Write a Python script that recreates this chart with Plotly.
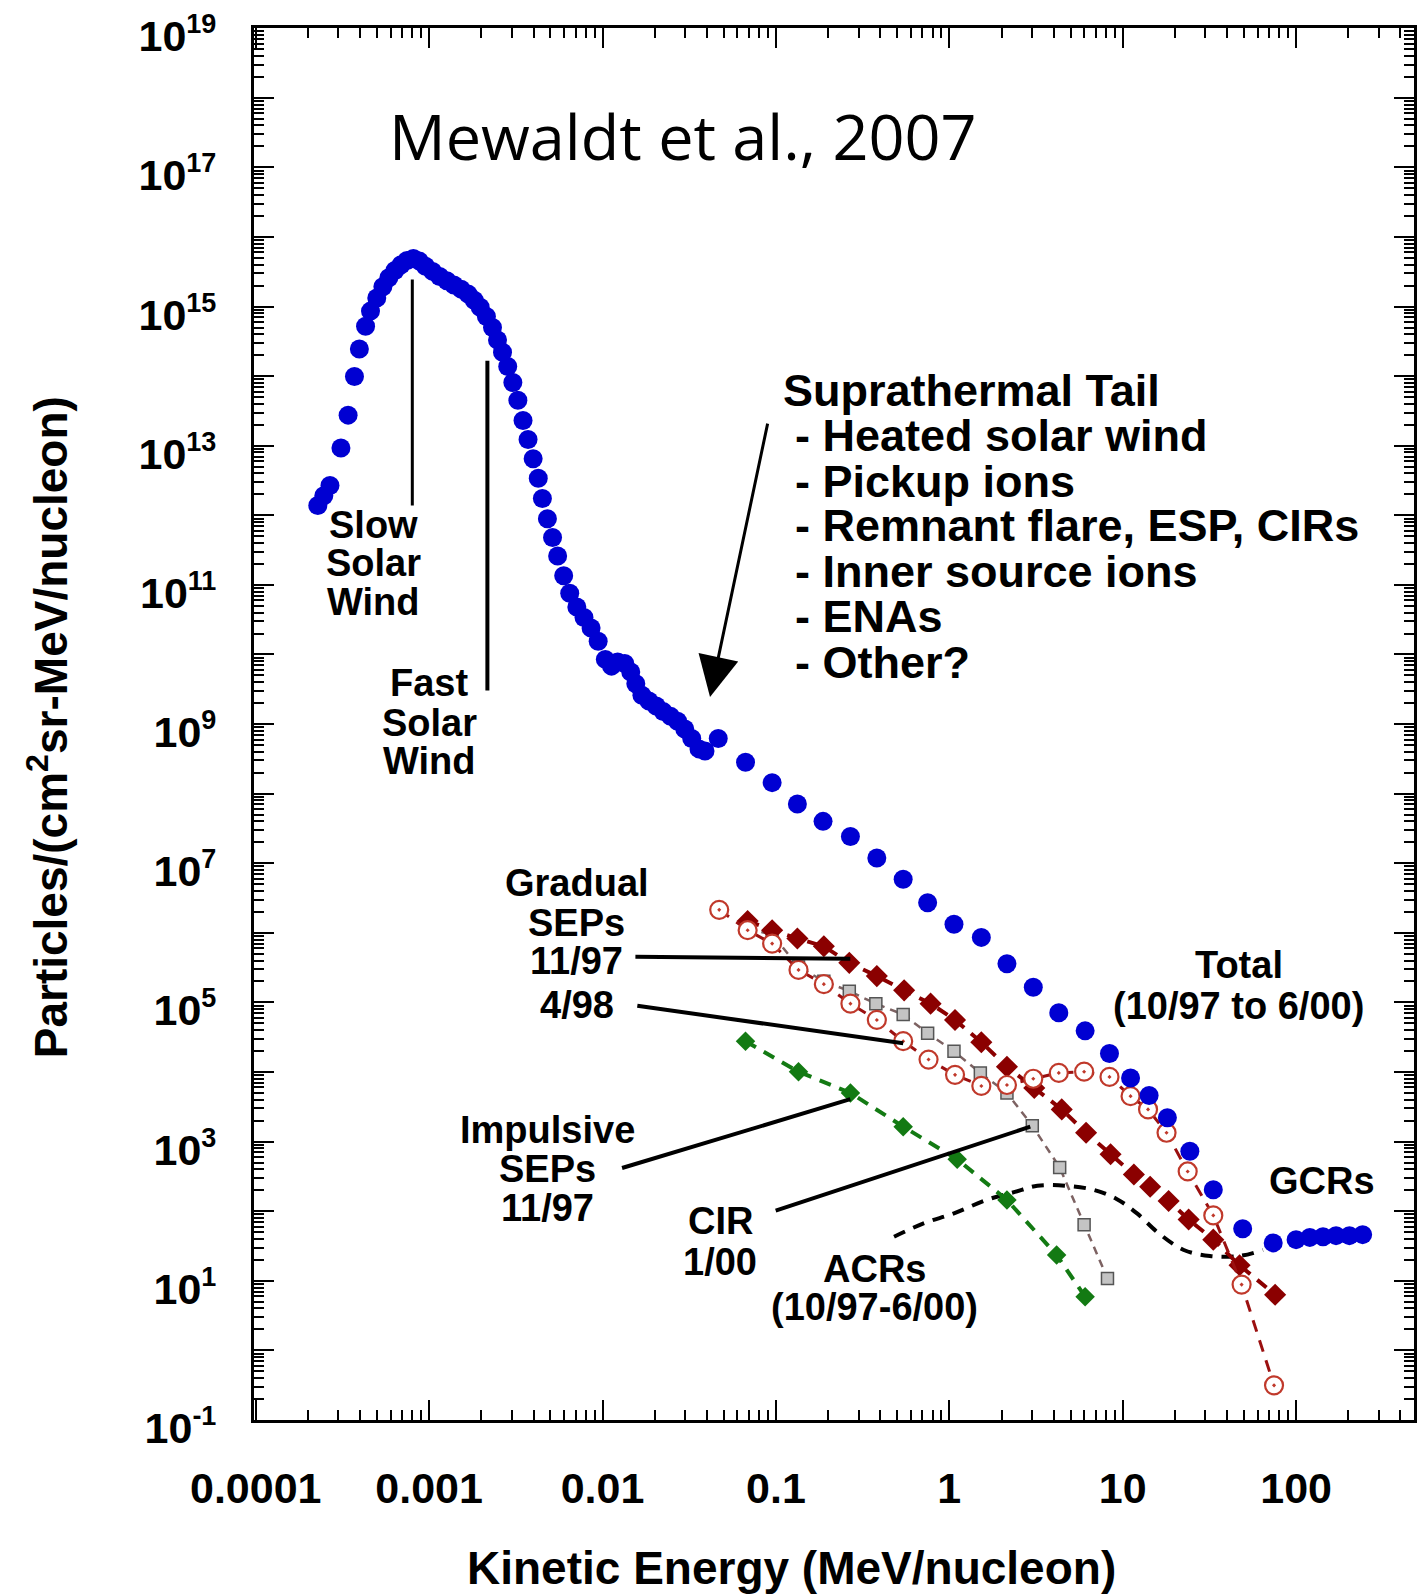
import plotly.graph_objects as go

# ---- Fluence spectra, oxygen-normalised particles (MeV/nucleon vs particles/(cm2 sr MeV/nucleon)) ----

# Total spectrum 10/97 to 6/00: solar wind peak, suprathermal tail and GCRs
total_energy = [2.28e-4, 2.47e-4, 2.68e-4, 3.10e-4, 3.41e-4, 3.71e-4, 3.96e-4, 4.30e-4, 4.59e-4, 4.99e-4,
                5.41e-4, 5.86e-4, 6.35e-4, 6.89e-4, 7.46e-4, 8.11e-4, 8.79e-4, 9.53e-4, 1.047e-3, 1.15e-3,
                1.265e-3, 1.39e-3, 1.53e-3, 1.68e-3, 1.82e-3, 1.97e-3, 2.14e-3, 2.32e-3, 2.48e-3, 2.65e-3,
                2.84e-3, 3.04e-3, 3.25e-3, 3.48e-3, 3.72e-3, 3.98e-3, 4.26e-3, 4.50e-3, 4.81e-3, 5.15e-3,
                5.51e-3, 5.97e-3, 6.47e-3, 7.11e-3, 7.82e-3, 8.59e-3, 9.44e-3, 1.038e-2, 1.127e-2, 1.222e-2,
                1.343e-2, 1.455e-2, 1.556e-2, 1.687e-2, 1.853e-2, 2.04e-2, 2.24e-2, 2.47e-2, 2.71e-2, 2.98e-2,
                3.27e-2, 3.60e-2, 3.90e-2, 4.65e-2, 6.68e-2, 9.51e-2, 0.133, 0.187, 0.269, 0.382,
                0.542, 0.750, 1.064, 1.53, 2.15, 3.05, 4.28, 6.07, 8.39, 11.1,
                14.2, 18.1, 24.4, 33.3, 49.2, 73.8, 100, 120, 143, 170, 203, 242]
total_flux = [1.38e12, 1.91e12, 2.69e12, 9.3e12, 2.75e13, 9.9e13, 2.46e14, 5.2e14, 8.6e14, 1.33e15,
              1.92e15, 2.6e15, 3.3e15, 4.0e15, 4.6e15, 4.9e15, 4.5e15, 3.8e15, 3.2e15, 2.7e15,
              2.35e15, 2.04e15, 1.78e15, 1.51e15, 1.23e15, 9.8e14, 7.2e14, 5.0e14, 3.3e14, 2.2e14,
              1.38e14, 8.1e13, 4.5e13, 2.3e13, 1.23e13, 6.5e12, 3.4e12, 1.74e12, 8.9e11, 4.8e11,
              2.6e11, 1.35e11, 7.6e10, 4.8e10, 3.4e10, 2.4e10, 1.55e10, 8.5e9, 6.8e9, 7.8e9,
              7.4e9, 5.6e9, 3.8e9, 2.6e9, 2.14e9, 1.82e9, 1.51e9, 1.29e9, 1.10e9, 8.5e8,
              6.2e8, 4.4e8, 4.1e8, 6.2e8, 2.82e8, 1.44e8, 7.1e7, 4.0e7, 2.42e7, 1.19e7,
              5.9e6, 2.7e6, 1.33e6, 8.6e5, 3.6e5, 1.65e5, 7.1e4, 3.9e4, 1.85e4, 8.2e3,
              4.6e3, 2.2e3, 728, 203, 56, 35, 39, 42, 43, 44.5, 44.5, 46]

# Gradual SEP event 11/97
grad1197_energy = [0.0687, 0.0951, 0.133, 0.189, 0.265, 0.382, 0.549, 0.780, 1.079, 1.53, 2.15,
                   3.09, 4.45, 6.15, 8.51, 11.6, 14.4, 18.4, 24.0, 33.3, 47.2, 75.7]
grad1197_flux = [1.48e6, 1.09e6, 8.3e5, 6.4e5, 3.7e5, 2.39e5, 1.49e5, 9.6e4, 5.6e4, 2.68e4, 1.19e4,
                 5.9e3, 2.9e3, 1.34e3, 659, 336, 224, 140, 76, 39, 16.7, 6.3]

# Gradual SEP event 4/98
grad498_energy = [0.0471, 0.0687, 0.0951, 0.135, 0.189, 0.269, 0.382, 0.542, 0.759, 1.079, 1.53, 2.15,
                  3.05, 4.28, 5.99, 8.39, 11.1, 14.0, 17.9, 23.7, 33.3, 48.5, 74.6]
grad498_flux = [2.14e6, 1.09e6, 7.0e5, 2.93e5, 1.83e5, 9.6e4, 5.6e4, 2.77e4, 1.51e4, 9.1e3, 6.3e3, 6.5e3,
                8.0e3, 9.7e3, 1.01e4, 8.5e3, 4.5e3, 2.9e3, 1.34e3, 372, 87, 8.8, 0.314]

# CIR event 1/00
cir_energy = [0.0687, 0.0951, 0.135, 0.189, 0.265, 0.377, 0.542, 0.750, 1.064, 1.51, 2.15, 3.01,
              4.33, 5.99, 8.17]
cir_flux = [1.13e6, 9.5e5, 3.24e5, 2.02e5, 1.45e5, 9.6e4, 6.7e4, 3.6e4, 1.98e4, 9.7e3, 5.0e3, 1.69e3,
            425, 64, 10.8]

# Impulsive SEP event 11/97
imp_energy = [0.0668, 0.135, 0.269, 0.542, 1.11, 2.15, 4.16, 6.07]
imp_flux = [2.77e4, 1.01e4, 5.0e3, 1.64e3, 556, 145, 23.4, 5.9]

# Anomalous cosmic rays 10/97-6/00
acr_energy = [0.480, 0.710, 1.064, 1.64, 2.39, 3.22, 4.70, 6.76, 9.22, 12.1, 16.0, 22.5, 31.9, 47.2, 64.4]
acr_flux = [43, 66.7, 93, 145, 189, 232, 232, 203, 150, 93, 49, 27.7, 22.7, 22.7, 27.7]

# Axis ticks
x_tick_vals = [1e-4, 1e-3, 1e-2, 1e-1, 1, 10, 100]
x_tick_text = ["0.0001", "0.001", "0.01", "0.1", "1", "10", "100"]
y_tick_vals = [10.0 ** k for k in range(-1, 20)]
y_tick_text = [("10<sup><span style='font-size:27px'>%d</span></sup>" % k) if k % 2 else ""
               for k in range(-1, 20)]

BOLD = "Liberation Sans"
DASH = "12px,9px"

fig = go.Figure()

fig.add_trace(go.Scatter(
    x=acr_energy, y=acr_flux, mode="lines",
    line=dict(color="black", width=4, dash=DASH, shape="spline"), name="ACRs"))

fig.add_trace(go.Scatter(
    x=imp_energy, y=imp_flux, mode="lines+markers",
    line=dict(color="#137a13", width=4, dash=DASH),
    marker=dict(symbol="diamond", size=15, color="#137a13"), name="Impulsive SEPs 11/97"))

fig.add_trace(go.Scatter(
    x=cir_energy, y=cir_flux, mode="lines+markers",
    line=dict(color="#7d6262", width=2.5, dash="8px,6px"),
    marker=dict(symbol="square", size=12, color="#c4c4c4", line=dict(color="#555555", width=1.5)),
    name="CIR 1/00"))

fig.add_trace(go.Scatter(
    x=grad1197_energy, y=grad1197_flux, mode="lines+markers",
    line=dict(color="#8b0000", width=4, dash=DASH),
    marker=dict(symbol="diamond", size=17, color="#8b0000"), name="Gradual SEPs 11/97"))

fig.add_trace(go.Scatter(
    x=grad498_energy, y=grad498_flux, mode="lines+markers",
    line=dict(color="#9b1010", width=3, dash=DASH),
    marker=dict(symbol="circle-dot", size=18, color="white", line=dict(color="#c0392b", width=2.2)),
    name="Gradual SEPs 4/98"))

fig.add_trace(go.Scatter(
    x=total_energy, y=total_flux, mode="markers",
    marker=dict(symbol="circle", size=19, color="#0000d2"), name="Total"))


def label(text, x, y, size=38, xanchor="center"):
    """Bold text placed in log10 axis coordinates."""
    fig.add_annotation(x=x, y=y, xref="x", yref="y", text=text, showarrow=False,
                       xanchor=xanchor, yanchor="middle",
                       font=dict(family=BOLD, size=size, color="black", weight="bold"))


def leader(x_tip, y_tip, x_tail, y_tail, width=4, head=0, size=1.0):
    """Straight pointer line (optionally with a head) in log10 axis coordinates."""
    fig.add_annotation(x=x_tip, y=y_tip, ax=x_tail, ay=y_tail, xref="x", yref="y",
                       axref="x", ayref="y", text="", showarrow=True, arrowhead=head,
                       arrowsize=size, arrowwidth=width, arrowcolor="black", standoff=0)


# Solar wind labels
for txt, yy in [("Slow", 11.86), ("Solar", 11.32), ("Wind", 10.76)]:
    label(txt, -3.320, yy)
for txt, yy in [("Fast", 9.59), ("Solar", 9.02), ("Wind", 8.47)]:
    label(txt, -2.998, yy)
leader(-3.097, 15.39, -3.097, 12.12, width=3)
leader(-2.664, 14.22, -2.664, 9.46, width=4)

# Suprathermal tail list and arrow
label("Suprathermal Tail", -0.970, 13.79, size=45, xanchor="left")
for txt, yy in [("- Heated solar wind", 13.15), ("- Pickup ions", 12.49),
                ("- Remnant flare, ESP, CIRs", 11.85), ("- Inner source ions", 11.19),
                ("- ENAs", 10.54), ("- Other?", 9.885)]:
    label(txt, -0.899, yy, size=45, xanchor="left")
leader(-1.380, 9.39, -1.046, 13.34, width=3, head=2, size=2.7)

# SEP / CIR / ACR labels
for txt, yy in [("Gradual", 6.71), ("SEPs", 6.14), ("11/97", 5.60), ("4/98", 4.97)]:
    label(txt, -2.148, yy)
leader(-0.571, 5.628, -1.819, 5.657)
leader(-0.266, 4.413, -1.808, 4.955)

for txt, yy in [("Impulsive", 3.17), ("SEPs", 2.61), ("11/97", 2.04)]:
    label(txt, -2.320, yy)
leader(-0.571, 3.609, -1.896, 2.614)

label("CIR", -1.321, 1.853)
label("1/00", -1.321, 1.268)
leader(0.467, 3.214, -1.010, 2.0)

label("ACRs", -0.430, 1.165)
label("(10/97-6/00)", -0.430, 0.624)

label("Total", 1.668, 5.54)
label("(10/97 to 6/00)", 1.668, 4.955)
label("GCRs", 2.149, 2.438)

# Reference caption
fig.add_annotation(x=-3.244, y=17.46, xref="x", yref="y", text="Mewaldt et al., 2007",
                   showarrow=False, xanchor="left", yanchor="middle",
                   font=dict(family="Open Sans", size=63, color="black"))

# Axis titles
fig.add_annotation(x=0.463, y=-0.1064, xref="paper", yref="paper",
                   text="Kinetic Energy (MeV/nucleon)", showarrow=False,
                   xanchor="center", yanchor="middle",
                   font=dict(family=BOLD, size=46, color="black", weight="bold"))
fig.add_annotation(x=-0.178, y=0.4973, xref="paper", yref="paper",
                   text="Particles/(cm<sup>2</sup>sr-MeV/nucleon)", showarrow=False,
                   textangle=-90, xanchor="center", yanchor="middle",
                   font=dict(family=BOLD, size=46, color="black", weight="bold"))

axis_common = dict(
    type="log", tickmode="array", ticks="inside", ticklen=20, tickwidth=2, tickcolor="black",
    showline=True, linewidth=3, linecolor="black", mirror="allticks",
    showgrid=False, zeroline=False,
    minor=dict(dtick="D1", ticks="inside", ticklen=10, tickwidth=1.5, tickcolor="black", showgrid=False),
    tickfont=dict(family=BOLD, size=43, color="black", weight="bold"),
)

fig.update_layout(
    width=1419, height=1596,
    margin=dict(l=254, r=2, t=28, b=176),
    paper_bgcolor="white", plot_bgcolor="white",
    showlegend=False,
    xaxis=dict(range=[-4.01, 2.68], tickvals=x_tick_vals, ticktext=x_tick_text,
               ticklabelstandoff=28, **axis_common),
    yaxis=dict(range=[-1.001, 19.003], tickvals=y_tick_vals, ticktext=y_tick_text,
               ticklabelstandoff=26, ticklabelshift=8, **axis_common),
)

fig.write_html("out.html")
